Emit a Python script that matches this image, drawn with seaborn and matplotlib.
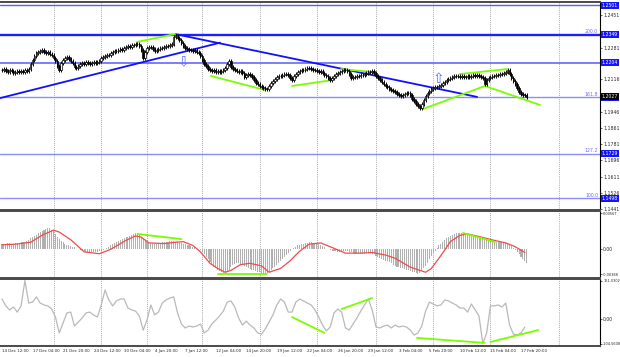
import numpy as np
import matplotlib
matplotlib.use("Agg")
import matplotlib.pyplot as plt
import matplotlib.transforms as mtransforms
import seaborn as sns

# H4 closes in pips (x 1e-4), one per bar
close_pips = [
    12165, 12170, 12160, 12155, 12165, 12160, 12149, 12155, 12160, 12155,
    12160, 12155, 12165, 12160, 12170, 12196, 12217, 12238, 12253, 12259,
    12264, 12269, 12259, 12253, 12259, 12248, 12243, 12227, 12212, 12186,
    12165, 12201, 12217, 12227, 12233, 12222, 12212, 12201, 12181, 12175,
    12186, 12196, 12201, 12196, 12207, 12201, 12196, 12201, 12207, 12201,
    12207, 12212, 12227, 12233, 12238, 12243, 12243, 12253, 12259, 12264,
    12264, 12269, 12274, 12269, 12279, 12285, 12290, 12285, 12295, 12295,
    12300, 12300, 12290, 12269, 12227, 12259, 12279, 12285, 12285, 12274,
    12264, 12269, 12274, 12279, 12279, 12285, 12290, 12290, 12295, 12300,
    12337, 12342, 12331, 12321, 12305, 12290, 12279, 12274, 12269, 12269,
    12264, 12269, 12259, 12253, 12238, 12217, 12196, 12186, 12170, 12165,
    12160, 12165, 12155, 12160, 12155, 12160, 12165, 12175, 12196, 12212,
    12181, 12170, 12165, 12160, 12155, 12160, 12149, 12129, 12139, 12144,
    12139, 12129, 12113, 12097, 12092, 12082, 12077, 12071, 12066, 12066,
    12082, 12097, 12108, 12118, 12129, 12134, 12134, 12139, 12144, 12144,
    12139, 12123, 12113, 12134, 12144, 12155, 12160, 12165, 12165, 12170,
    12175, 12175, 12170, 12165, 12165, 12160, 12155, 12160, 12149, 12139,
    12134, 12123, 12113, 12123, 12134, 12144, 12149, 12155, 12160, 12165,
    12165, 12160, 12144, 12123, 12129, 12129, 12134, 12134, 12139, 12139,
    12144, 12149, 12155, 12155, 12160, 12149, 12134, 12123, 12113, 12103,
    12092, 12082, 12077, 12066, 12061, 12056, 12051, 12040, 12035, 12030,
    12035, 12040, 12045, 12045, 12035, 12014, 12004, 11988, 11978, 11967,
    11988, 12009, 12030, 12045, 12056, 12066, 12071, 12077, 12077, 12082,
    12087, 12097, 12103, 12113, 12118, 12123, 12129, 12134, 12134, 12134,
    12129, 12134, 12129, 12129, 12134, 12129, 12134, 12139, 12134, 12139,
    12134, 12129, 12123, 12092, 12113, 12123, 12129, 12134, 12134, 12139,
    12139, 12144, 12144, 12149, 12155, 12165, 12144, 12123, 12108, 12092,
    12071, 12051, 12040, 12035, 12035, 12027,
]

# MACD main (histogram) in 1e-4, one per bar
macd_hist = [
    8, 9, 9, 10, 10, 9, 9, 10, 10, 10, 11, 11, 12, 13, 15, 17,
    19, 21, 23, 25, 27, 29, 31, 32, 33, 33,
    31, 28, 24, 20, 16, 13, 11, 9,
    7, 6, 5, 4, 3,
    1, 0, -1, -2, -3, -4, -4, -5, -5, -5, -4, -4, -3,
    -2, -1, 0, 2, 4, 6, 8, 10,
    11, 13, 14, 16, 17, 19, 20, 21, 23, 24, 25, 25,
    23, 20, 17, 14, 12, 11,
    10, 10, 9, 9, 10, 10, 11, 11, 12, 12, 13, 13, 13, 12, 12, 11,
    10, 9, 8, 7, 6, 5, 4, 3, 2, 1, -1,
    -4, -8, -12, -16, -20, -24, -27, -30, -32, -34, -36, -37, -37,
    -35, -32, -28, -25, -23, -22, -22, -23,
    -24, -26, -28, -30, -31, -32, -33, -34, -35, -36, -37, -38, -38,
    -37, -35, -33, -30, -27, -24, -21, -18, -15, -12, -9, -6, -3, 0,
    2, 4, 6, 7, 8, 9, 10, 10, 11, 11, 10, 10, 9, 8, 7,
    5, 3, 1, 0, -1, -2, -3, -3, -4, -4, -4, -3, -3,
    -3, -4, -5, -6, -7, -8, -8, -8, -7, -7, -6, -6, -6,
    -7, -8, -10, -12, -14, -16, -17, -18, -19, -20, -22, -24, -26,
    -27, -28, -29, -30, -31, -32, -33, -34, -35, -36, -37, -38, -37,
    -34, -30, -26, -21, -16, -11, -6,
    -2, 2, 6, 9, 12, 15, 17, 19, 21,
    23, 24, 25, 26, 26, 26, 26, 25, 25, 24,
    23, 22, 21, 20, 20, 19, 18, 17, 16, 15, 15,
    14, 13, 12, 12, 11, 11, 10, 10, 9, 8,
    5, 2, -1, -4, -8, -12, -15, -18, -21,
]

# MACD signal (1e-4) at some bars
signal_bar = [0, 7, 15, 21, 27, 30, 36, 43, 51, 57, 65, 70, 73, 77, 85, 91, 95, 100, 104, 109,
              113, 117, 120, 125, 130, 136, 140, 146, 151, 156, 161, 167, 172, 180, 188, 194, 201, 206, 214, 222,
              225, 230, 235, 240, 244, 250, 258, 264, 269, 274]
signal_val = [7, 8, 11, 22, 30, 27, 15, -4, -7, 0, 14, 21, 19, 10, 9, 11, 12, 6, -4, -22,
              -30, -36, -33, -24, -22, -26, -36, -30, -18, -3, 8, 10, 4, -6, -6, -5, -9, -14, -28, -36,
              -30, -10, 12, 22, 24, 20, 14, 10, 4, -5]

# CCI, every second bar
cci_val = [
    83, 54, 37, 49, 28, 54, 161, 66, 70, 92, 66, 58, 54, 41, 7, -60, -18, 24, 28, -31,
    -14, 3, 24, 28, 16, 7, 58, 121, 79, 54, 75, 83, 83, 45, 37, 32, 11, -48, -6, 58,
    16, 28, 66, 79, 87, 92, 24, -22, -39, -31, -35, -31, -22, -60, -48, -22, -6, 11, 32, 70,
    75, 49, 3, -27, -10, -27, -39, -60, -65, -43, -14, 16, 58, 83, 70, 28, 28, 70, 83, 75,
    66, 58, 37, 7, -27, -52, -35, 24, 41, 28, -39, -48, -22, 3, 32, 58, 83, 37, -35, -39,
    -31, -27, -39, -27, -35, -31, -35, -48, -69, -60, -31, 32, 70, 62, 54, 58, 79, 75, 66, 58,
    45, 45, 28, 62, 37, 11, -105, -60, 54, 54, 58, 49, 66, -27, -65, -69, -60, -35,
]

date_labels = ["14 Dec 12:00", "17 Dec 04:00", "21 Dec 20:00", "24 Dec 12:00", "30 Dec 04:00",
               "4 Jan 20:00", "7 Jan 12:00", "12 Jan 04:00", "14 Jan 20:00", "19 Jan 12:00",
               "22 Jan 04:00", "26 Jan 20:00", "29 Jan 12:00", "3 Feb 04:00", "5 Feb 20:00",
               "10 Feb 12:00", "15 Feb 04:00", "17 Feb 20:00"]
week_sep = [27, 52, 76, 105, 135, 165, 196, 226, 256, 292]

price_ticks = [1.2451, 1.2281, 1.2116, 1.1946, 1.1861, 1.1781, 1.1696, 1.1611, 1.1526, 1.1441]
level_price = [1.2501, 1.2349, 1.2204, 1.2024, 1.1729, 1.1498]
level_name = ["", "200.0", "", "161.8", "127.2", "100.0"]
level_color = ["#5a5aff", "#1e1eff", "#5a5aff", "#8c8cff", "#8c8cff", "#8c8cff"]
level_width = [1.0, 1.7, 1.1, 1.0, 1.0, 1.0]

blue_trend = [((-1, 1.2019), (114.3, 1.2307)), ((90.7, 1.2352), (249, 1.2025))]
green_price = [((70.8, 1.2311), (90.7, 1.2352)), ((109.5, 1.2134), (137.8, 1.2061)),
               ((152, 1.2082), (173.5, 1.2113)), ((177.7, 1.2170), (193.9, 1.2155)),
               ((220.6, 1.1962), (253.1, 1.2082)), ((253.1, 1.2082), (282, 1.1983)),
               ((240, 1.2144), (264.7, 1.2170))]
green_macd = [((71, 24), (94, 16)), ((113, -38.7), (139, -38.7)), ((241.6, 25.5), (258.4, 11.4))]
green_cci = [((152, 7), (169, -60)), ((178, 41), (194, 87)), ((217.5, -81), (253, -102)),
             ((256, -98), (281, -48))]
arrows = [(95, 1.2207, "\u21e9"), (228.5, 1.2118, "\u21e7")]

sns.set_style("white")
plt.rcParams["font.family"] = ["DejaVu Sans"]

W, H = 620, 357
fig = plt.figure(figsize=(W / 100, H / 100), dpi=100)
fig.patch.set_facecolor("white")
aw = 600 / W
ax1 = fig.add_axes([0, 1 - 210 / H, aw, 208 / H])
ax2 = fig.add_axes([0, 1 - 278 / H, aw, 67 / H])
ax3 = fig.add_axes([0, 1 - 346 / H, aw, 67 / H])
xlim = (-1.05, 313.4)
frame = "#4a4a4a"
lab_fs = 3.3
small_fs = 2.5

for ax in (ax1, ax2, ax3):
    ax.set_xlim(*xlim)
    ax.set_facecolor("white")
    for s in ("top", "bottom"):
        ax.spines[s].set_color(frame)
        ax.spines[s].set_linewidth(1.4)
    ax.spines["left"].set_visible(False)
    ax.spines["right"].set_color("black")
    ax.spines["right"].set_linewidth(0.8)
    for b in week_sep:
        ax.axvline(b, color="#8a8a8a", lw=0.6, ls=(0, (1, 1.5)), zorder=0)
    ax.yaxis.tick_right()
    ax.tick_params(axis="y", labelsize=lab_fs, length=1.5, pad=0.8, width=0.5)
    ax.set_xticks([])

# --- price panel ---
closes = np.array(close_pips) / 10000
opens = np.r_[closes[0], closes[:-1]]
bars = np.arange(len(closes))
wick = 0.0011
hi = np.maximum(opens, closes) + wick
lo = np.minimum(opens, closes) - wick
ax1.set_ylim(1.1437, 1.25186)
for p, c, w in zip(level_price, level_color, level_width):
    ax1.axhline(p, color=c, lw=w, zorder=1)
for (x0, y0), (x1, y1) in blue_trend:
    ax1.plot([x0, x1], [y0, y1], color="#1010ff", lw=1.3, zorder=2)
for (x0, y0), (x1, y1) in green_price:
    ax1.plot([x0, x1], [y0, y1], color="#7cfc00", lw=1.3, zorder=2)
ax1.vlines(bars, lo, hi, color="black", lw=0.7, zorder=3)
up = closes >= opens
ax1.bar(bars[up], (closes - opens)[up], bottom=opens[up], width=0.8,
        color="white", edgecolor="black", lw=0.5, zorder=4)
ax1.bar(bars[~up], (closes - opens)[~up], bottom=opens[~up], width=0.8,
        color="black", edgecolor="black", lw=0.5, zorder=4)
for bx, py, ch in arrows:
    ax1.text(bx, py, ch, color="#5a6cff", fontsize=10, ha="center", va="center", zorder=5)

ax1.set_yticks(price_ticks)
ax1.set_yticklabels([f"{t:.4f}" for t in price_ticks])
tr1 = mtransforms.blended_transform_factory(ax1.transAxes, ax1.transData)
for p, name in zip(level_price, level_name):
    ax1.text(1.003, p, f"{p:.4f}", transform=tr1, ha="left", va="center", fontsize=lab_fs,
             color="white", clip_on=False, zorder=6,
             bbox=dict(boxstyle="square,pad=0.2", fc="#1414ff", ec="none"))
    if name:
        ax1.text(0.997, p + 0.0003, name, transform=tr1, ha="right", va="bottom",
                 fontsize=3.3, color="#6a6aff", zorder=6)
ax1.text(1.003, closes[-1], f"{closes[-1]:.4f}", transform=tr1, ha="left", va="center",
         fontsize=lab_fs, color="white", clip_on=False, zorder=7,
         bbox=dict(boxstyle="square,pad=0.2", fc="black", ec="none"))

# --- MACD panel ---
hist = np.array(macd_hist) / 10000
ax2.set_ylim(-0.0045, 0.0060)
ax2.bar(np.arange(len(hist)), hist, width=0.55, color="#b0b0b0", lw=0, zorder=2)
sns.lineplot(x=signal_bar, y=np.array(signal_val) / 10000, ax=ax2, color="#f24a4a",
             lw=0.9, zorder=3)
for (x0, y0), (x1, y1) in green_macd:
    ax2.plot([x0, x1], [y0 / 10000, y1 / 10000], color="#7cfc00", lw=1.3, zorder=4)
ax2.set_yticks([0.00567, 0.0, -0.00388])
ax2.set_yticklabels(["0.00567", "0.00", "-0.00388"])
ax2.set_xticks([])
ax2.set_ylabel("")

# --- CCI panel ---
cci_x = np.arange(0, 2 * len(cci_val), 2)
ax3.set_ylim(-115.1, 167.4)
sns.lineplot(x=cci_x, y=cci_val, ax=ax3, color="#b9b9b9", lw=0.9, zorder=2)
for (x0, y0), (x1, y1) in green_cci:
    ax3.plot([x0, x1], [y0, y1], color="#7cfc00", lw=1.3, zorder=3)
ax3.set_yticks([161.0302, 0.0, -104.5608])
ax3.set_yticklabels(["161.0302", "0.00", "-104.5608"])
ax3.set_ylabel("")
ax3.set_xticks([16 * k for k in range(len(date_labels))])
ax3.set_xticklabels(date_labels)
ax3.tick_params(axis="x", labelsize=2.9, length=1.5, pad=0.8, width=0.5)
for lab in ax3.get_xticklabels():
    lab.set_ha("left")
ax3.set_xlim(*xlim)

# long indicator labels get a smaller size so they fit the 20 px margin
for ax in (ax2, ax3):
    for lab in ax.get_yticklabels():
        if len(lab.get_text()) > 4:
            lab.set_fontsize(small_fs)

fig.savefig("out.png", dpi=100, facecolor="white")
